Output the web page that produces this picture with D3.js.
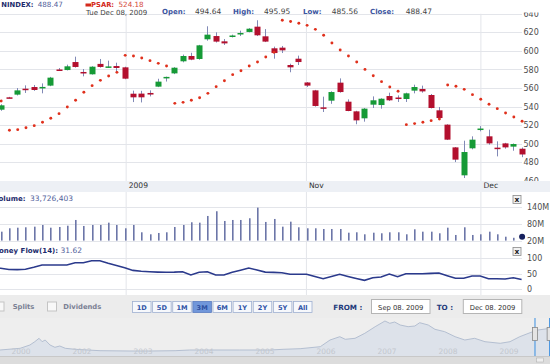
<!DOCTYPE html>
<html><head><meta charset="utf-8">
<script src="https://cdnjs.cloudflare.com/ajax/libs/d3/7.8.5/d3.min.js"></script>
<style>
html,body{margin:0;padding:0;background:#fff;overflow:hidden;}
svg{display:block;font-family:"DejaVu Sans",Verdana,sans-serif;}
</style></head><body>
<svg id="c" width="550" height="364"></svg>
<script>
// ---------- DATA ----------
const dates = ["2009-09-08","2009-09-09","2009-09-10","2009-09-11","2009-09-14","2009-09-15","2009-09-16","2009-09-17","2009-09-18","2009-09-21","2009-09-22","2009-09-23","2009-09-24","2009-09-25","2009-09-28","2009-09-29","2009-09-30",
"2009-10-01","2009-10-02","2009-10-05","2009-10-06","2009-10-07","2009-10-08","2009-10-09","2009-10-12","2009-10-13","2009-10-14","2009-10-15","2009-10-16","2009-10-19","2009-10-20","2009-10-21","2009-10-22","2009-10-23","2009-10-26","2009-10-27","2009-10-28","2009-10-29","2009-10-30",
"2009-11-02","2009-11-03","2009-11-04","2009-11-05","2009-11-06","2009-11-09","2009-11-10","2009-11-11","2009-11-12","2009-11-13","2009-11-16","2009-11-17","2009-11-18","2009-11-19","2009-11-20","2009-11-23","2009-11-24","2009-11-25","2009-11-27","2009-11-30",
"2009-12-01","2009-12-02","2009-12-03","2009-12-04","2009-12-07","2009-12-08"];
const opens  = [537,536.7,550,552.9,559.3,561.1,560.5,562.6,580,579.4,588,577.3,574.8,586,582.8,583.7,582.3,553.9,554,554.7,561.5,571.5,575.8,588.8,594.5,591.3,612.5,616,610.3,616,618.5,620.4,626.1,615.7,602.8,603.5,584.8,591.6,566,557.5,539.2,546.4,565.8,545.3,534.9,527.4,542.1,541.7,551.4,549.8,548.2,557.2,559,552.5,536,520.6,496.1,466,495.1,515.3,508,495.8,500.4,496.9,494.64];
const highs  = [541,542.5,550.5,560,562.9,563.3,565,572,581.5,585.2,593.8,580.5,583.5,591.3,589.5,587.3,583,557.2,557,557.5,570,572.3,582.5,596,598,606.5,626.5,620,612.8,617.5,621.8,624.5,633,623.5,604.6,605.3,586.2,594.9,566.5,558,550.7,556.5,570.4,547.8,535.5,538.5,551,549,555,552.1,555,563.6,562.6,553.6,539.6,521,496.5,503.3,508,519,515.2,502.6,501,500.3,495.95];
const lows   = [534,535.5,549,552,554.7,557,554.3,562,579,579,582,572.6,574.5,582,581.6,576.2,569.5,544.9,544.5,551,561,567,575,587.7,590,590.5,611,609,606.4,614.5,616,620,616,609.5,591.6,597.7,577,584.8,561.1,540,534.2,543,555,535,521,523.8,538.5,537.8,546,545,545,554.3,555,538,526,504,480.3,463.1,494,513.4,499,486.4,494.7,492.5,485.56];
const closes = [539,541.4,549.3,557.5,558.5,557.9,561.2,571.2,579.5,583.4,582.7,576,583,582.7,583.3,581.6,570.1,550,550,553,566.9,572,581.9,594.5,590.6,606,617.5,610,608.1,616.6,619.3,623.9,616.8,610,597.7,600.6,582.3,588,562.6,540.7,538.7,555.7,555.7,535.3,525.2,537.8,546.8,548.5,546.8,548.8,554.3,561.1,556.4,538.5,527.7,504.4,482.9,491.1,504.4,516.4,500.4,495.2,496.1,499.7,488.47];
const psar   = [547,546,514.5,515.2,517.3,519.5,523.1,527.4,532.4,539.6,546.8,555.4,562.6,568.3,573,576.9,595.2,594.5,592.4,589.5,586.6,583.7,543.5,544.6,546.8,549.6,554.3,561.5,567.9,574.4,578.7,583.7,588,593.4,598.5,633,631.6,629.7,627.5,623.2,616.8,608.5,601,594.5,588,580.1,573.3,566.9,561.1,556.5,520.6,521.7,523.1,524.9,526.7,563.3,561.9,558.6,552.9,547.9,542.5,537.8,533.1,528.8,524.18];
const volumeM = [55,51.6,63.6,65.7,67.1,69.3,75.3,65.7,68.2,72.8,93,71.8,75.3,75.3,83.5,75.3,63.6,75.3,49.4,42.3,47,49.4,68.2,75.3,84.9,83.5,107.2,123.9,89.5,93,93,99.1,136.7,86,96.6,69.3,87,67.1,63.6,63.6,61.1,61.1,61.1,48,49.4,42.3,48,45.9,49.4,49.4,42.3,60,51.6,51.6,45.9,65.7,39.9,67.1,39.9,42.3,51.6,42.3,33.8,30,33.726403];
const moneyFlow = [68,67.7,64,63.5,64.5,71,78.4,78.4,78.4,78.4,85.8,85.8,92.3,92.3,83.9,76.5,69.7,61,58,56.5,55.5,54.8,55.5,56.8,46.1,54.8,56.8,46.1,46.1,54.8,61.5,68.7,62.3,55.5,54.5,53.6,48.4,48.4,48.4,41,34.2,41,48.4,41.5,35,29,37.4,39.7,49.4,40.6,50.3,50.3,50.3,51.5,52.6,44,35.5,35.5,42.9,42.9,34.2,33.8,33.2,37.4,31.62];

const priceTicks = [460,480,500,520,540,560,580,600,620,640];
const volTicks = [20e6,80e6,140e6];
const mfTicks = [0,50,100];
const monthTickDates = ["2009-10-01","2009-11-01","2009-12-01"];
const monthTickLabels = ["2009","Nov","Dec"];
const rangeButtons = ["1D","5D","1M","3M","6M","1Y","2Y","5Y","All"];
const activeButton = "3M";

const navYears  = [2000.92,2001.25,2001.41,2001.49,2001.56,2001.61,2001.66,2001.74,2001.82,2001.90,2001.99,2002.15,2002.56,2003.05,2003.38,2003.79,2004.03,2004.36,2004.85,2005.35,2005.56,2005.84,2006.17,2006.33,2006.49,2006.58,2006.74,2006.90,2007.07,2007.23,2007.31,2007.39,2007.48,2007.61,2007.72,2007.80,2007.94,2008.05,2008.21,2008.38,2008.54,2008.70,2008.87,2009.12,2009.28,2009.44,2009.61,2009.74,2009.94];
const navValues = [120,154,220,286,354,286,320,220,174,200,154,134,106,100,100,106,120,120,120,120,134,146,186,320,386,334,354,454,586,700,654,680,620,586,600,666,620,534,486,386,320,354,286,254,286,386,466,520,554];
const navYearTicks = [2001,2002,2003,2004,2005,2006,2007,2008,2009];
const navYearLabels = ["2000","2002","2003","2004","2005","2006","2007","2008","2009"];

// ---------- SETUP ----------
const svg = d3.select("#c");
const parse = d3.timeParse("%Y-%m-%d");
const xi = d3.scaleLinear().domain([0, dates.length-1]).range([-7.6, 521.6]);
const xt = d3.scaleTime().domain([parse(dates[0]), parse(dates[dates.length-1])]).range([-7.6, 521.6]);
const y = d3.scaleLinear().domain([460,640]).range([180.9, 13.76]);
const yv = d3.scaleLinear().domain([20e6,140e6]).range([240.6, 206.7]);
const ym = d3.scaleLinear().domain([0,100]).range([289.3, 258.3]);

const GRID = "#e3e5ea";
svg.append("rect").attr("width",550).attr("height",364).attr("fill","#fff");

// vertical month gridlines
const gv = svg.append("g");
monthTickDates.forEach(d=>{
  gv.append("line").attr("x1",xt(parse(d))).attr("x2",xt(parse(d)))
    .attr("y1",13.76).attr("y2",295).attr("stroke",GRID).attr("stroke-width",1);
});

// horizontal gridlines
const gridRight = 522;
function hgrid(scale, ticks){
  svg.append("g").selectAll("line").data(ticks).join("line")
    .attr("x1",0).attr("x2",gridRight)
    .attr("y1",d=>Math.round(scale(d))+0.5).attr("y2",d=>Math.round(scale(d))+0.5)
    .attr("stroke",GRID);
}
hgrid(y, priceTicks); hgrid(yv, volTicks); hgrid(ym, mfTicks);

// right axes
function rightAxis(scale, ticks, fmt, x){
  const g = svg.append("g").attr("transform",`translate(${x},0)`)
    .call(d3.axisRight(scale).tickValues(ticks).tickSize(0).tickPadding(0).tickFormat(fmt));
  g.select(".domain").remove();
  g.selectAll("text").attr("fill","#4d4d4d").style("font-size","8px").attr("font-family","DejaVu Sans");
}
rightAxis(y, priceTicks, d3.format("d"), 523.5);
rightAxis(yv, volTicks, d=>(d/1e6)+"M", 527);
rightAxis(ym, mfTicks, d3.format("d"), 527);

// x-axis band
svg.append("rect").attr("x",0).attr("y",181).attr("width",550).attr("height",11).attr("fill","#edf0f5");
const xa = svg.append("g").attr("transform","translate(0,181)")
  .call(d3.axisBottom(xt).tickValues(monthTickDates.map(parse)).tickSize(0).tickPadding(0)
    .tickFormat((d,i)=>monthTickLabels[i]));
xa.select(".domain").remove();
xa.selectAll("text").attr("text-anchor","start").attr("dx",2).attr("y",2)
  .attr("fill","#333").style("font-size","7.6px").attr("font-family","DejaVu Sans");

// candles
const WICK = "#8189b6", UP="#169a36", DOWN="#b3102e";
const cg = svg.append("g");
const idx = d3.range(dates.length);
cg.selectAll("line.w").data(idx).join("line")
  .attr("x1",i=>Math.round(xi(i))+0.5).attr("x2",i=>Math.round(xi(i))+0.5)
  .attr("y1",i=>y(highs[i])).attr("y2",i=>y(lows[i]))
  .attr("stroke",WICK).attr("stroke-width",1);
cg.selectAll("rect.b").data(idx).join("rect")
  .attr("x",i=>Math.round(xi(i))-2.5).attr("width",6)
  .attr("y",i=>y(Math.max(opens[i],closes[i])))
  .attr("height",i=>Math.max(1.5, Math.abs(y(opens[i])-y(closes[i]))))
  .attr("fill",i=>closes[i]>=opens[i]?UP:DOWN);

// PSAR dots
svg.append("g").selectAll("circle").data(idx).join("circle")
  .attr("cx",i=>xi(i)+0.5).attr("cy",i=>y(psar[i])).attr("r",1.45).attr("fill","#e0301c");

// header
svg.append("rect").attr("x",0).attr("y",0).attr("width",550).attr("height",12.5).attr("fill","#fff");
function txt(x,yy,s,opt){
  const t = svg.append("text").attr("x",x).attr("y",yy).text(s)
    .style("font-size",(opt.size||7)+"px").attr("fill",opt.fill||"#333")
    .attr("font-weight",opt.bold?"bold":"normal");
  if(opt.anchor) t.attr("text-anchor",opt.anchor);
  return t;
}
txt(33.5,7,"NINDEX:",{bold:true,fill:"#1d2b6c",anchor:"end",size:6.8});
txt(37.7,7,d3.format(".2f")(closes[closes.length-1]),{size:7.2,fill:"#52619b"});
svg.append("rect").attr("x",85.5).attr("y",3.5).attr("width",5.5).attr("height",3).attr("fill","#d42a1c");
txt(91,7,"PSAR:",{bold:true,fill:"#d42a1c",size:6.8});
txt(118.5,7,d3.format(".2f")(psar[psar.length-1]),{size:7.2,fill:"#d5493a"});

const last = dates.length-1;
txt(86,14.6,d3.timeFormat("%a %b %d, %Y")(parse(dates[last])),{size:7,fill:"#444"});
const hdr = [["Open:",162,opens[last],195],["High:",233,highs[last],264],["Low:",303,lows[last],331.7],["Close:",370,closes[last],405.7]];
hdr.forEach(h=>{
  txt(h[1],14.2,h[0],{bold:true,fill:"#3c55a0"});
  txt(h[3],14.2,d3.format(".2f")(h[2]),{size:7.5,fill:"#444"});
});

// volume panel
svg.append("g").selectAll("rect").data(idx.slice(0,last)).join("rect")
  .attr("x",i=>Math.round(xi(i))).attr("width",1.6)
  .attr("y",i=>yv(volumeM[i]*1e6)).attr("height",i=>yv(20e6)-yv(volumeM[i]*1e6))
  .attr("fill","#6c76a8");
svg.append("circle").attr("cx",xi(last)+0.5).attr("cy",yv(volumeM[last]*1e6)).attr("r",3).attr("fill","#16215e");
txt(25.5,200.5,"Volume:",{bold:true,fill:"#1d2b6c",anchor:"end"});
txt(30,200.5,d3.format(",")(Math.round(volumeM[last]*1e6)),{size:7.5,fill:"#52619b"});

// money flow panel
svg.append("path").datum(idx).attr("fill","none").attr("stroke","#2b3a8c").attr("stroke-width",1.6)
  .attr("d",d3.line().x(i=>xi(i)).y(i=>ym(moneyFlow[i])));
txt(58,252.5,"Money Flow(14):",{bold:true,fill:"#1d2b6c",anchor:"end"});
txt(60.5,252.5,d3.format(".2f")(moneyFlow[last]),{size:7.5,fill:"#52619b"});

// close buttons
[195.5,247.5].forEach(yy=>{
  svg.append("rect").attr("x",513).attr("y",yy).attr("width",8).attr("height",8)
    .attr("fill","#f2f2f2").attr("stroke","#8a8a8a").attr("stroke-width",0.8);
  svg.append("text").attr("x",517).attr("y",yy+6.3).attr("text-anchor","middle").text("x")
    .style("font-size","7.5px").attr("font-weight","bold").attr("fill","#222");
});

// toolbar
svg.append("rect").attr("x",0).attr("y",295).attr("width",550).attr("height",69).attr("fill","#ececec");
svg.append("rect").attr("x",-4).attr("y",302).attr("width",8).attr("height",9).attr("fill","#f8f8f8").attr("stroke","#c4c4c4");
txt(12.7,309,"Splits",{bold:true,fill:"#7b8194",size:6.8});
svg.append("rect").attr("x",47.5).attr("y",302).attr("width",9).attr("height",9).attr("fill","#f8f8f8").attr("stroke","#c4c4c4");
txt(63.3,309,"Dividends",{bold:true,fill:"#7b8194",size:6.8});

const bx = d3.scaleBand().domain(rangeButtons).range([132.5,312]).paddingInner(0.08);
const bg = svg.append("g");
rangeButtons.forEach(b=>{
  const act = b===activeButton;
  bg.append("rect").attr("x",bx(b)).attr("y",301.5).attr("width",bx.bandwidth()).attr("height",11)
    .attr("fill",act?"#7096da":"#f6f8fc").attr("stroke",act?"#5a7cc0":"#9fb0d2").attr("stroke-width",0.8);
  bg.append("text").attr("x",bx(b)+bx.bandwidth()/2).attr("y",309.5).attr("text-anchor","middle").text(b)
    .style("font-size","6.6px").attr("font-weight","bold").attr("fill",act?"#2d4fa0":"#2f53a6");
});
txt(333.3,310,"FROM :",{bold:true,fill:"#22397a",size:7.2});
svg.append("rect").attr("x",371.5).attr("y",299.5).attr("width",58.5).attr("height",14).attr("fill","#fff").attr("stroke","#b5b5b5");
txt(400.7,309.5,"Sep 08. 2009",{size:6.8,fill:"#333",anchor:"middle"});
txt(436.7,310,"TO :",{bold:true,fill:"#22397a",size:7.2});
svg.append("rect").attr("x",463.3).attr("y",299.5).attr("width",58.5).attr("height",14).attr("fill","#fff").attr("stroke","#b5b5b5");
txt(492.5,309.5,"Dec 08. 2009",{size:6.8,fill:"#333",anchor:"middle"});

// navigator
const nx = d3.scaleLinear().domain([2001,2010]).range([4.9,553.9]);
const ny = d3.scaleLinear().domain([0,800]).range([356,316]);
svg.append("rect").attr("x",0).attr("y",318).attr("width",550).attr("height",38).attr("fill","#eeeeee");
svg.append("path").datum(d3.range(navYears.length)).attr("fill","#dde2ea")
  .attr("d",d3.area().x(i=>nx(navYears[i])).y0(356).y1(i=>ny(navValues[i])));
svg.append("path").datum(d3.range(navYears.length)).attr("fill","none").attr("stroke","#b4bfd1").attr("stroke-width",1)
  .attr("d",d3.line().x(i=>nx(navYears[i])).y(i=>ny(navValues[i])));
svg.append("g").selectAll("text").data(navYearTicks).join("text")
  .attr("x",d=>nx(d)+6.5).attr("y",353.5).text((d,i)=>navYearLabels[i])
  .style("font-size","7.5px").attr("fill","#c3c7ce");
// scrollbar
svg.append("rect").attr("x",0).attr("y",356).attr("width",550).attr("height",8).attr("fill","#dcdcdc");
svg.append("line").attr("x1",0).attr("x2",550).attr("y1",356.5).attr("y2",356.5).attr("stroke","#c8c8c8");
// selection handles
const selA = nx(2009.69), selB = nx(2009.93);
[selA, selB].forEach(xx=>{
  svg.append("line").attr("x1",xx).attr("x2",xx).attr("y1",318).attr("y2",356).attr("stroke","#3a8ee0").attr("stroke-width",1);
  svg.append("rect").attr("x",xx-2.5).attr("y",327.5).attr("width",5).attr("height",13).attr("fill","#e4e4e4").attr("stroke","#888").attr("stroke-width",0.8);
});
svg.append("rect").attr("x",536.5).attr("y",358).attr("width",7).attr("height",4).attr("fill","#eeeeee").attr("stroke","#aaa").attr("stroke-width",0.5);
</script>
</body></html>
